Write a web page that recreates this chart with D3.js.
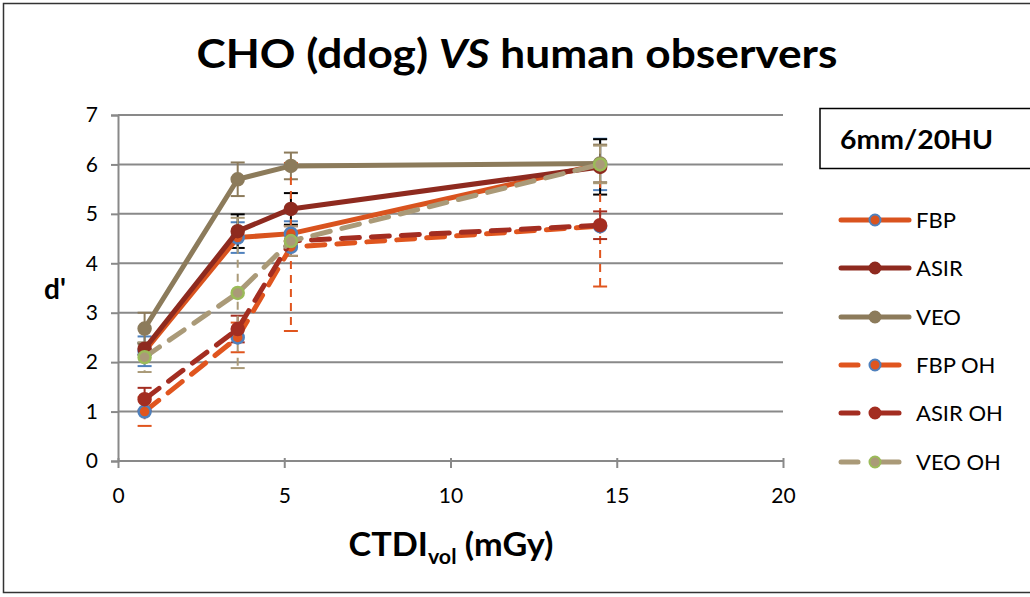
<!DOCTYPE html>
<html><head><meta charset="utf-8">
<script src="https://cdn.jsdelivr.net/npm/d3@7"></script>
<style>body{margin:0;background:#fff}svg{display:block}text{font-family:Lato,"Open Sans",sans-serif}</style>
</head><body><svg id="c" width="1030" height="597"></svg>
<script>
const doses = [0.8, 3.6, 5.2, 14.5];
const seriesNames = ["FBP", "ASIR", "VEO", "FBP OH", "ASIR OH", "VEO OH"];
const fbp = [2.22, 4.52, 4.6, 6.0];
const asir = [2.27, 4.65, 5.1, 5.95];
const veo = [2.68, 5.7, 5.97, 6.02];
const fbpOH = [1.0, 2.5, 4.33, 4.75];
const asirOH = [1.25, 2.67, 4.45, 4.77];
const veoOH = [2.1, 3.4, 4.45, 6.0];
const fbpErr = [0.3, 0.31, 0.25, 0.52];
const asirErr = [0.12, 0.34, 0.32, 0.56];
const veoErr = [0.32, 0.34, 0.27, 0.38];
const fbpOHErr = [0.29, 0.3, 1.7, 1.22];
const asirOHErr = [0.23, 0.27, 0.3, 0.28];
const veoOHErr = [0.3, 1.52, 0.3, 0.38];
const xTicks = [0, 5, 10, 15, 20];
const yTicks = [0, 1, 2, 3, 4, 5, 6, 7];

const styles = [
  {line:"#d9531e", fill:"#d9531e", stroke:"#4f81bd", dash:null, err:"#4f81bd", errDash:null},
  {line:"#8e2a1f", fill:"#8e2a1f", stroke:"#8e2a1f", dash:null, err:"#000", errDash:null},
  {line:"#8c7b5b", fill:"#8c7b5b", stroke:"#8c7b5b", dash:null, err:"#8c7b5b", errDash:null},
  {line:"#e0551e", fill:"#e0551e", stroke:"#4f81bd", dash:"18,12", err:"#e0551e", errDash:"8,6"},
  {line:"#a32d21", fill:"#a32d21", stroke:"#a32d21", dash:"18,12", err:"#a32d21", errDash:"8,6"},
  {line:"#aa9a78", fill:"#aa9a78", stroke:"#9bbb59", dash:"18,12", err:"#aa9a78", errDash:"8,6"}
];
const values = [fbp, asir, veo, fbpOH, asirOH, veoOH];
const errs = [fbpErr, asirErr, veoErr, fbpOHErr, asirOHErr, veoOHErr];

const svg = d3.select("#c");
svg.append("rect").attr("x",3.5).attr("y",3.5).attr("width",1040).attr("height",589)
  .attr("fill","#fff").attr("stroke","#333").attr("stroke-width",1.5);

const x = d3.scaleLinear().domain([0,20]).range([118,783]);
const y = d3.scaleLinear().domain([0,7]).range([461,115]);

// gridlines
svg.append("g").selectAll("line").data(yTicks.filter(d=>d>0)).join("line")
  .attr("x1",x(0)).attr("x2",x(20)).attr("y1",d=>y(d)).attr("y2",d=>y(d))
  .attr("stroke","#898989").attr("stroke-width",2);

// axes
const yAxis = svg.append("g").attr("transform",`translate(${x(0)},0)`)
  .call(d3.axisLeft(y).tickValues(yTicks).tickSize(7).tickPadding(13).tickFormat(d3.format("d")));
const xAxis = svg.append("g").attr("transform",`translate(0,${y(0)})`)
  .call(d3.axisBottom(x).tickValues(xTicks).tickSize(7).tickPadding(20).tickFormat(d3.format("d")));
[yAxis,xAxis].forEach(a=>{
  a.select(".domain").attr("stroke","#898989").attr("stroke-width",2);
  a.selectAll(".tick line").attr("stroke","#898989").attr("stroke-width",2);
  a.selectAll(".tick text").attr("font-size",21).attr("fill","#000").attr("font-family","Lato");
});
xAxis.select(".domain").attr("d",`M${x(0)},0H${x(20)}`);
xAxis.selectAll(".tick line").attr("y1",-3);

// error bars
values.forEach((vals,i)=>{
  const st = styles[i];
  const g = svg.append("g");
  vals.forEach((v,j)=>{
    const e = errs[i][j], cx = x(doses[j]);
    g.append("line").attr("x1",cx).attr("x2",cx).attr("y1",y(v+e)).attr("y2",y(v-e))
      .attr("stroke",st.err).attr("stroke-width",2).attr("stroke-dasharray",st.errDash);
    [v+e, v-e].forEach(t=>{
      g.append("line").attr("x1",cx-7).attr("x2",cx+7).attr("y1",y(t)).attr("y2",y(t))
        .attr("stroke",st.err).attr("stroke-width",2);
    });
  });
});

// lines and markers
const lineGen = d3.line().x((d,j)=>x(doses[j])).y(d=>y(d));
values.forEach((vals,i)=>{
  const st = styles[i];
  svg.append("path").attr("d",lineGen(vals)).attr("fill","none")
    .attr("stroke",st.line).attr("stroke-width",5).attr("stroke-linecap","round")
    .attr("stroke-linejoin","round").attr("stroke-dasharray",st.dash);
  svg.append("g").selectAll("circle").data(vals).join("circle")
    .attr("cx",(d,j)=>x(doses[j])).attr("cy",d=>y(d)).attr("r",6)
    .attr("fill",st.fill).attr("stroke",st.stroke).attr("stroke-width",2.5);
});

// title
const title = svg.append("text").attr("x",517).attr("y",68).attr("text-anchor","middle")
  .attr("font-size",40).attr("font-weight","bold").attr("textLength",641).attr("lengthAdjust","spacingAndGlyphs");
title.append("tspan").text("CHO (ddog) ");
title.append("tspan").attr("font-style","italic").text("VS");
title.append("tspan").text(" human observers");

// axis titles
svg.append("text").attr("x",55).attr("y",299).attr("text-anchor","middle")
  .attr("font-size",28).attr("font-weight","bold").text("d'");
const xt = svg.append("text").attr("x",451).attr("y",556).attr("text-anchor","middle")
  .attr("font-size",32).attr("font-weight","bold").attr("textLength",205).attr("lengthAdjust","spacingAndGlyphs");
xt.append("tspan").text("CTDI");
xt.append("tspan").attr("font-size",20).attr("dy",8).text("vol");
xt.append("tspan").attr("dy",-8).text(" (mGy)");

// annotation box
svg.append("rect").attr("x",820).attr("y",108.5).attr("width",230).attr("height",60)
  .attr("fill","#fff").attr("stroke","#000").attr("stroke-width",1.5);
svg.append("text").attr("x",840).attr("y",149).attr("font-size",26).attr("font-weight","bold")
  .attr("textLength",153).attr("lengthAdjust","spacingAndGlyphs").text("6mm/20HU");

// legend
const legY = [220, 268, 317, 365, 413, 462];
seriesNames.forEach((n,i)=>{
  const st = styles[i], ly = legY[i];
  const g = svg.append("g");
  if (st.dash) {
    g.append("line").attr("x1",841).attr("x2",858).attr("y1",ly).attr("y2",ly)
      .attr("stroke",st.line).attr("stroke-width",5).attr("stroke-linecap","round");
    g.append("line").attr("x1",880).attr("x2",899).attr("y1",ly).attr("y2",ly)
      .attr("stroke",st.line).attr("stroke-width",5).attr("stroke-linecap","round");
  } else {
    g.append("line").attr("x1",841).attr("x2",909).attr("y1",ly).attr("y2",ly)
      .attr("stroke",st.line).attr("stroke-width",5).attr("stroke-linecap","round");
  }
  g.append("circle").attr("cx",875).attr("cy",ly).attr("r",5.5)
    .attr("fill",st.fill).attr("stroke",st.stroke).attr("stroke-width",2);
  g.append("text").attr("x",916).attr("y",ly+8).attr("font-size",22).text(n);
});
</script></body></html>
